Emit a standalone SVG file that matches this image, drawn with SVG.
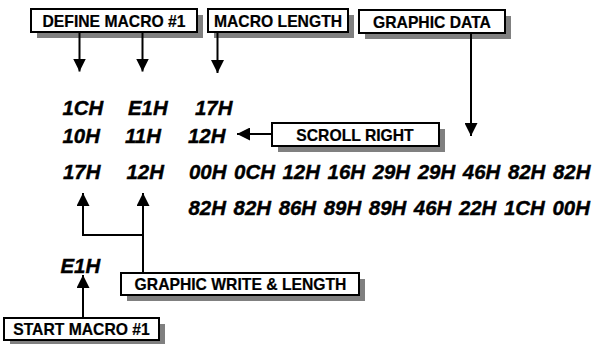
<svg xmlns="http://www.w3.org/2000/svg" width="592" height="344" viewBox="0 0 592 344">
<defs>
<style>
.box{fill:#fff;stroke:#000;stroke-width:2}
.sh{fill:#808080}
.lbl{font-family:"Liberation Sans",Arial,sans-serif;font-weight:bold;font-size:15.7px;text-anchor:middle;fill:#000;stroke:#000;stroke-width:0.2px}
.hex{font-family:"Liberation Sans",Arial,sans-serif;font-weight:bold;font-style:italic;font-size:20.4px;fill:#000;stroke:#000;stroke-width:0.4px}
.row{word-spacing:2px}
.con{fill:none;stroke:#000;stroke-width:2}
</style>
<marker id="ah" markerUnits="userSpaceOnUse" markerWidth="13" markerHeight="13" refX="13" refY="6.5" orient="auto" viewBox="0 0 13 13">
<path d="M0,0 L13,6.5 L0,13 z" fill="#000"/>
</marker>
</defs>
<rect width="592" height="344" fill="#fff"/>

<g id="define-macro">
<rect class="sh" x="37" y="15" width="166" height="23"/>
<rect class="box" x="31" y="9" width="166" height="23"/>
<text class="lbl" x="114" y="26.5">DEFINE MACRO #1</text>
</g>
<g id="macro-length">
<rect class="sh" x="214" y="15" width="140" height="23"/>
<rect class="box" x="208" y="9" width="140" height="23"/>
<text class="lbl" x="278" y="26.5">MACRO LENGTH</text>
</g>
<g id="graphic-data">
<rect class="sh" x="365" y="16" width="146" height="23"/>
<rect class="box" x="359" y="10" width="146" height="23"/>
<text class="lbl" x="432" y="27.5">GRAPHIC DATA</text>
</g>
<g id="scroll-right">
<rect class="sh" x="278" y="129" width="167" height="23"/>
<rect class="box" x="272" y="123" width="167" height="23"/>
<text class="lbl" x="355" y="140.5">SCROLL RIGHT</text>
</g>
<g id="graphic-write">
<rect class="sh" x="127" y="279" width="238" height="22"/>
<rect class="box" x="121" y="273" width="238" height="22"/>
<text class="lbl" x="240.5" y="290">GRAPHIC WRITE &amp; LENGTH</text>
</g>
<g id="start-macro">
<rect class="sh" x="10" y="324" width="155" height="22"/>
<rect class="box" x="4" y="318" width="155" height="22"/>
<text class="lbl" x="81.5" y="335">START MACRO #1</text>
</g>

<g id="data">
<text class="hex" x="62.5" y="115">1CH</text>
<text class="hex" x="128" y="115">E1H</text>
<text class="hex" x="195" y="115">17H</text>
<text class="hex" x="62.5" y="143">10H</text>
<text class="hex" x="125" y="143">11H</text>
<text class="hex" x="188" y="143">12H</text>
<text class="hex" x="63" y="179">17H</text>
<text class="hex" x="126.5" y="179">12H</text>
<text class="hex row" x="189" y="179">00H 0CH 12H 16H 29H 29H 46H 82H 82H</text>
<text class="hex row" x="188.5" y="215">82H 82H 86H 89H 89H 46H 22H 1CH 00H</text>
<text class="hex" x="60.5" y="273">E1H</text>
</g>

<g id="connectors">
<path class="con" d="M79.5,32 V71.5" marker-end="url(#ah)"/>
<path class="con" d="M142.5,32 V71.5" marker-end="url(#ah)"/>
<path class="con" d="M217.5,32 V73" marker-end="url(#ah)"/>
<path class="con" d="M471,33 V136" marker-end="url(#ah)"/>
<path class="con" d="M272,134 H237" marker-end="url(#ah)"/>
<path class="con" d="M143,273 V193" marker-end="url(#ah)"/>
<path class="con" d="M143,235 H83 V193" marker-end="url(#ah)"/>
<path class="con" d="M83,318 V275" marker-end="url(#ah)"/>
</g>
</svg>
